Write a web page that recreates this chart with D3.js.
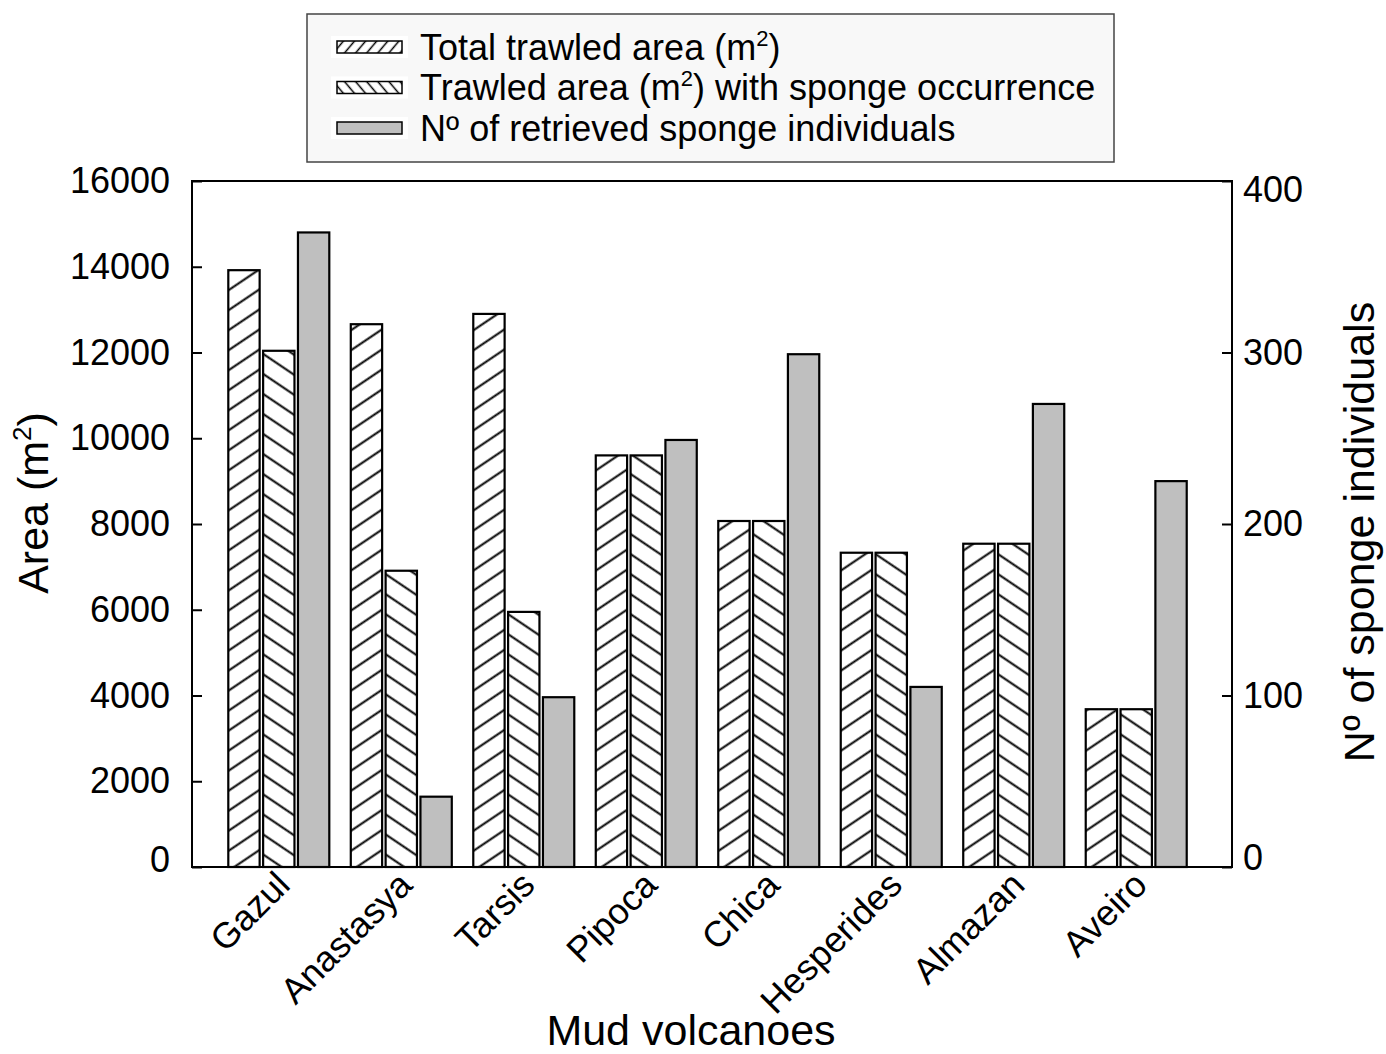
<!DOCTYPE html>
<html>
<head>
<meta charset="utf-8">
<script src="https://cdn.jsdelivr.net/npm/d3@7/dist/d3.min.js"></script>
<style>
  html, body { margin: 0; padding: 0; background: #fff; }
  svg { display: block; font-family: "Liberation Sans", Arial, Helvetica, sans-serif; }
</style>
</head>
<body>
<svg id="chart" width="1386" height="1054"></svg>
<script>
// Mud volcanoes sampled
const categories = ["Gazul", "Anastasya", "Tarsis", "Pipoca", "Chica", "Hesperides", "Almazan", "Aveiro"];
// Total trawled area (m²)
const totalArea = [13920, 12660, 12900, 9600, 8070, 7330, 7540, 3680];
// Trawled area (m²) with sponge occurrence
const spongeArea = [12040, 6910, 5950, 9600, 8070, 7330, 7540, 3680];
// Number of retrieved sponge individuals (right axis)
const spongeCount = [370, 41, 99, 249, 299, 105, 270, 225];

const areaTicks = [0, 2000, 4000, 6000, 8000, 10000, 12000, 14000, 16000];
const countTicks = [0, 100, 200, 300, 400];
const seriesKeys = ["total", "sponge", "count"];
const legendLabels = ["Total trawled area (m²)", "Trawled area (m²) with sponge occurrence", "Nº of retrieved sponge individuals"];

const svg = d3.select("#chart");
const plot = { left: 192, right: 1232, top: 181, bottom: 867 };

const x0 = d3.scaleBand().domain(categories)
  .range([plot.left, plot.right])
  .paddingInner(0.1755).paddingOuter(0.333).align(0.445);
const x1 = d3.scaleBand().domain(seriesKeys)
  .range([0, x0.bandwidth()]).paddingInner(0.1).paddingOuter(0);
const yArea = d3.scaleLinear().domain([0, 16000]).range([plot.bottom, plot.top]);
const yCount = d3.scaleLinear().domain([0, 400]).range([plot.bottom, plot.top]);

// Hatch fills
const defs = svg.append("defs");
function hatch(id, angle, spacing, width) {
  const p = defs.append("pattern")
    .attr("id", id)
    .attr("patternUnits", "userSpaceOnUse")
    .attr("width", 10).attr("height", spacing)
    .attr("patternTransform", `rotate(${angle})`);
  p.append("rect").attr("width", 10).attr("height", spacing).attr("fill", "#fff");
  p.append("line")
    .attr("x1", -1).attr("x2", 11)
    .attr("y1", spacing / 2).attr("y2", spacing / 2)
    .attr("stroke", "#000").attr("stroke-width", width);
}
hatch("hatchFwd", -34, 16.6, 2);
hatch("hatchBack", 34, 16.6, 2);
hatch("hatchFwdSmall", -50, 8.5, 1.5);
hatch("hatchBackSmall", 50, 8.5, 1.5);

const fills = { total: "url(#hatchFwd)", sponge: "url(#hatchBack)", count: "#bfbfbf" };
const legendFills = ["url(#hatchFwdSmall)", "url(#hatchBackSmall)", "#bfbfbf"];

// Text with a superscript "2" (for m²); baseline restored afterwards
function withSuperscript(textSel, str, size, supSize) {
  const parts = str.split("²");
  const lift = Math.round(size * 0.4);
  textSel.append("tspan").text(parts[0]);
  if (parts.length > 1) {
    textSel.append("tspan").attr("dy", -lift).style("font-size", supSize + "px").text("2");
    textSel.append("tspan").attr("dy", lift).text(parts[1]);
  }
}

// Bars
const rows = categories.map((c, i) => ({
  cat: c,
  bars: [
    { key: "total", v: totalArea[i], y: yArea },
    { key: "sponge", v: spongeArea[i], y: yArea },
    { key: "count", v: spongeCount[i], y: yCount }
  ]
}));

const groups = svg.append("g").selectAll("g")
  .data(rows).join("g")
  .attr("transform", d => `translate(${x0(d.cat)},0)`);

groups.selectAll("rect")
  .data(d => d.bars).join("rect")
  .attr("x", b => x1(b.key))
  .attr("width", x1.bandwidth())
  .attr("y", b => b.y(b.v))
  .attr("height", b => plot.bottom - b.y(b.v))
  .attr("fill", b => fills[b.key])
  .attr("stroke", "#000")
  .attr("stroke-width", 2.2);

// Axes
const leftAxis = svg.append("g")
  .attr("transform", `translate(${plot.left},0)`)
  .call(d3.axisLeft(yArea).tickValues(areaTicks).tickFormat(d3.format("d"))
    .tickSize(-10).tickPadding(22));
const rightAxis = svg.append("g")
  .attr("transform", `translate(${plot.right},0)`)
  .call(d3.axisRight(yCount).tickValues(countTicks).tickFormat(d3.format("d"))
    .tickSize(-10).tickPadding(11));

[leftAxis, rightAxis].forEach(a => {
  a.select(".domain").remove();
  a.selectAll(".tick line").attr("stroke", "#000").attr("stroke-width", 2);
  a.selectAll(".tick text")
    .attr("fill", "#000")
    .style("font-size", "36px")
    .style("font-family", "'Liberation Sans', Arial, sans-serif");
});
leftAxis.selectAll(".tick text").filter(d => d === 0).attr("dy", "0.12em");
rightAxis.selectAll(".tick text").filter(d => d === 0).attr("dy", "0.08em");
rightAxis.selectAll(".tick text").filter(d => d === 400).attr("dy", "0.58em");

// Frame
svg.append("rect")
  .attr("x", plot.left).attr("y", plot.top)
  .attr("width", plot.right - plot.left).attr("height", plot.bottom - plot.top)
  .attr("fill", "none").attr("stroke", "#000").attr("stroke-width", 2);

// Category labels
svg.append("g").selectAll("text")
  .data(categories).join("text")
  .attr("transform", d => `translate(${x0(d) + x0.bandwidth() / 2 + 13},${plot.bottom + 20}) rotate(-45)`)
  .attr("text-anchor", "end")
  .style("font-size", "36px")
  .text(d => d);

// Axis titles
svg.append("text")
  .attr("x", 691).attr("y", 1045)
  .attr("text-anchor", "middle")
  .style("font-size", "43px")
  .text("Mud volcanoes");

const areaTitle = svg.append("text")
  .attr("transform", "translate(48,503) rotate(-90)")
  .attr("text-anchor", "middle")
  .style("font-size", "43px");
withSuperscript(areaTitle, "Area (m²)", 43, 26);

svg.append("text")
  .attr("transform", "translate(1374,532) rotate(-90)")
  .attr("text-anchor", "middle")
  .style("font-size", "43px")
  .text("Nº of sponge individuals");

// Legend
const legend = svg.append("g");
legend.append("rect")
  .attr("x", 307).attr("y", 14).attr("width", 807).attr("height", 148)
  .attr("fill", "#f8f8f8").attr("stroke", "#444").attr("stroke-width", 1.5);

const items = legend.selectAll("g.item")
  .data(legendLabels).join("g")
  .attr("class", "item")
  .attr("transform", (d, i) => `translate(0,${47 + i * 40.5})`);

items.append("rect")
  .attr("x", 331).attr("y", -11).attr("width", 77).attr("height", 22)
  .attr("fill", "#fff");
items.append("rect")
  .attr("x", 337).attr("y", -6).attr("width", 65).attr("height", 12)
  .attr("fill", (d, i) => legendFills[i])
  .attr("stroke", "#000").attr("stroke-width", 1.5);

items.each(function(d) {
  const t = d3.select(this).append("text")
    .attr("x", 420).attr("y", 12.5)
    .style("font-size", "36px");
  withSuperscript(t, d, 36, 22);
});
</script>
</body>
</html>
